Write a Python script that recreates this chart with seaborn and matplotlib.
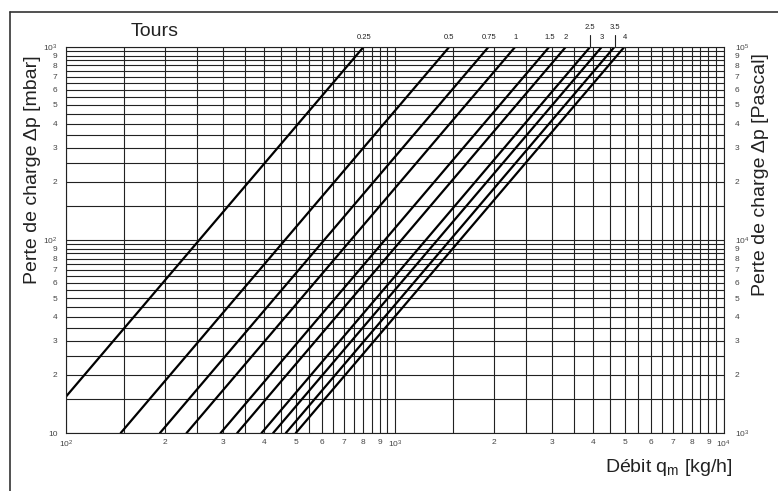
import numpy as np
import pandas as pd
import matplotlib
matplotlib.use('Agg')
import matplotlib.pyplot as plt
import seaborn as sns
from matplotlib.lines import Line2D
from matplotlib.ticker import FixedLocator, NullFormatter

# valve opening (turns) and flow rate reached at 1000 mbar
tours = [0.25, 0.5, 0.75, 1, 1.5, 2, 2.5, 3, 3.5, 4]
tour_labels = ['0.25', '0.5', '0.75', '1', '1.5', '2', '2.5', '3', '3.5', '4']
q_at_1000 = [805, 1467, 1931, 2327, 2953, 3317, 3934, 4267, 4664, 5000]
raised = ['2.5', '3.5']  # labels lifted up with a small leader line

x_ticks = [100, 200, 300, 400, 500, 600, 700, 800, 900,
           1000, 2000, 3000, 4000, 5000, 6000, 7000, 8000, 9000, 10000]
x_labels = ['$10^{2}$', '2', '3', '4', '5', '6', '7', '8', '9',
            '$10^{3}$', '2', '3', '4', '5', '6', '7', '8', '9', '$10^{4}$']
y_ticks = [10, 20, 30, 40, 50, 60, 70, 80, 90,
           100, 200, 300, 400, 500, 600, 700, 800, 900, 1000]
y_labels = ['10', '2', '3', '4', '5', '6', '7', '8', '9',
            '$10^{2}$', '2', '3', '4', '5', '6', '7', '8', '9', '$10^{3}$']
y2_labels = ['$10^{3}$', '2', '3', '4', '5', '6', '7', '8', '9',
             '$10^{4}$', '2', '3', '4', '5', '6', '7', '8', '9', '$10^{5}$']

sns.set_style('white')
plt.rcParams['font.family'] = ['Liberation Sans', 'DejaVu Sans']
plt.rcParams['mathtext.fontset'] = 'custom'
plt.rcParams['mathtext.rm'] = 'Liberation Sans'
plt.rcParams['mathtext.it'] = 'Liberation Sans'

# quadratic curves dp = 1000 * (q / q1000)^2, from 10 mbar (or 100 kg/h) to 1000 mbar
rows = []
for t, qt in zip(tour_labels, q_at_1000):
    for q in [max(100, qt / 10), qt]:
        rows.append({'tours': t, 'q': q, 'dp': 1000 * (q / qt) ** 2})
df = pd.DataFrame(rows)

fig = plt.figure(figsize=(7.78, 4.91), dpi=100)
ax = fig.add_axes([0.0848, 0.1181, 0.8452, 0.7868])
ax.set_xscale('log')
ax.set_yscale('log')
ax.set_xlim(100, 10000)
ax.set_ylim(10, 1000)

# grid every half unit inside each decade
half = np.arange(1, 10, 0.5)
xgrid = [d * s for d in [100, 1000] for s in half] + [10000]
ygrid = [d * s for d in [10, 100] for s in half] + [1000]
ax.xaxis.set_minor_locator(FixedLocator(xgrid))
ax.yaxis.set_minor_locator(FixedLocator(ygrid))
ax.xaxis.set_minor_formatter(NullFormatter())
ax.yaxis.set_minor_formatter(NullFormatter())
ax.set_xticks(x_ticks)
ax.set_xticklabels(x_labels)
ax.set_yticks(y_ticks)
ax.set_yticklabels(y_labels)
ax.grid(True, which='both', color='#222222', linewidth=0.8)
ax.tick_params(which='both', length=0)
ax.tick_params(axis='x', pad=4, labelsize=6, labelcolor='#444444')
ax.tick_params(axis='y', pad=6, labelsize=6, labelcolor='#444444')
for s in ax.spines.values():
    s.set_color('#222222')
    s.set_linewidth(0.8)

sns.lineplot(data=df, x='q', y='dp', units='tours', estimator=None,
             color='black', linewidth=1.6, ax=ax, legend=False)
ax.set_xlabel('')
ax.set_ylabel('')

for lab, qt in zip(tour_labels, q_at_1000):
    if lab in raised:
        ax.annotate(lab, xy=(qt, 1000), xytext=(0, 13.5), textcoords='offset points',
                    ha='center', va='center', fontsize=5.5, color='#222222',
                    annotation_clip=False)
        ax.plot([qt, qt], [1000, 1150], color='#222222', linewidth=0.8, clip_on=False)
    else:
        ax.annotate(lab, xy=(qt, 1000), xytext=(0, 6.3), textcoords='offset points',
                    ha='center', va='center', fontsize=5.5, color='#222222',
                    annotation_clip=False)

# right axis in Pascal
ax2 = ax.twinx()
ax2.set_yscale('log')
ax2.set_ylim(1000, 100000)
ax2.yaxis.set_minor_locator(FixedLocator([]))
ax2.set_yticks([v * 100 for v in y_ticks])
ax2.set_yticklabels(y2_labels)
ax2.tick_params(which='both', length=0, pad=8, labelsize=6, labelcolor='#444444')
for s in ax2.spines.values():
    s.set_visible(False)

fig.text(0.199, 0.935, 'Tours', fontsize=14, ha='center', va='center', color='#222222')
fig.text(0.042, 0.655, 'Perte de charge Δp [mbar]', fontsize=14, rotation=90,
         ha='center', va='center', color='#222222')
fig.text(0.977, 0.645, 'Perte de charge Δp [Pascal]', fontsize=14, rotation=90,
         ha='center', va='center', color='#222222')
fig.text(0.941, 0.047, r'Débit q$_{\mathrm{m}}$ [kg/h]', fontsize=14,
         ha='right', va='center', color='#222222')

# outer frame, cut by the picture border on the right and at the bottom
fig.add_artist(Line2D([10 / 778, 10 / 778], [0, 1 - 12 / 491], color='#333333',
                      linewidth=1.2, transform=fig.transFigure))
fig.add_artist(Line2D([10 / 778, 1], [1 - 12 / 491, 1 - 12 / 491], color='#333333',
                      linewidth=1.2, transform=fig.transFigure))

fig.savefig('out.png', dpi=100)
